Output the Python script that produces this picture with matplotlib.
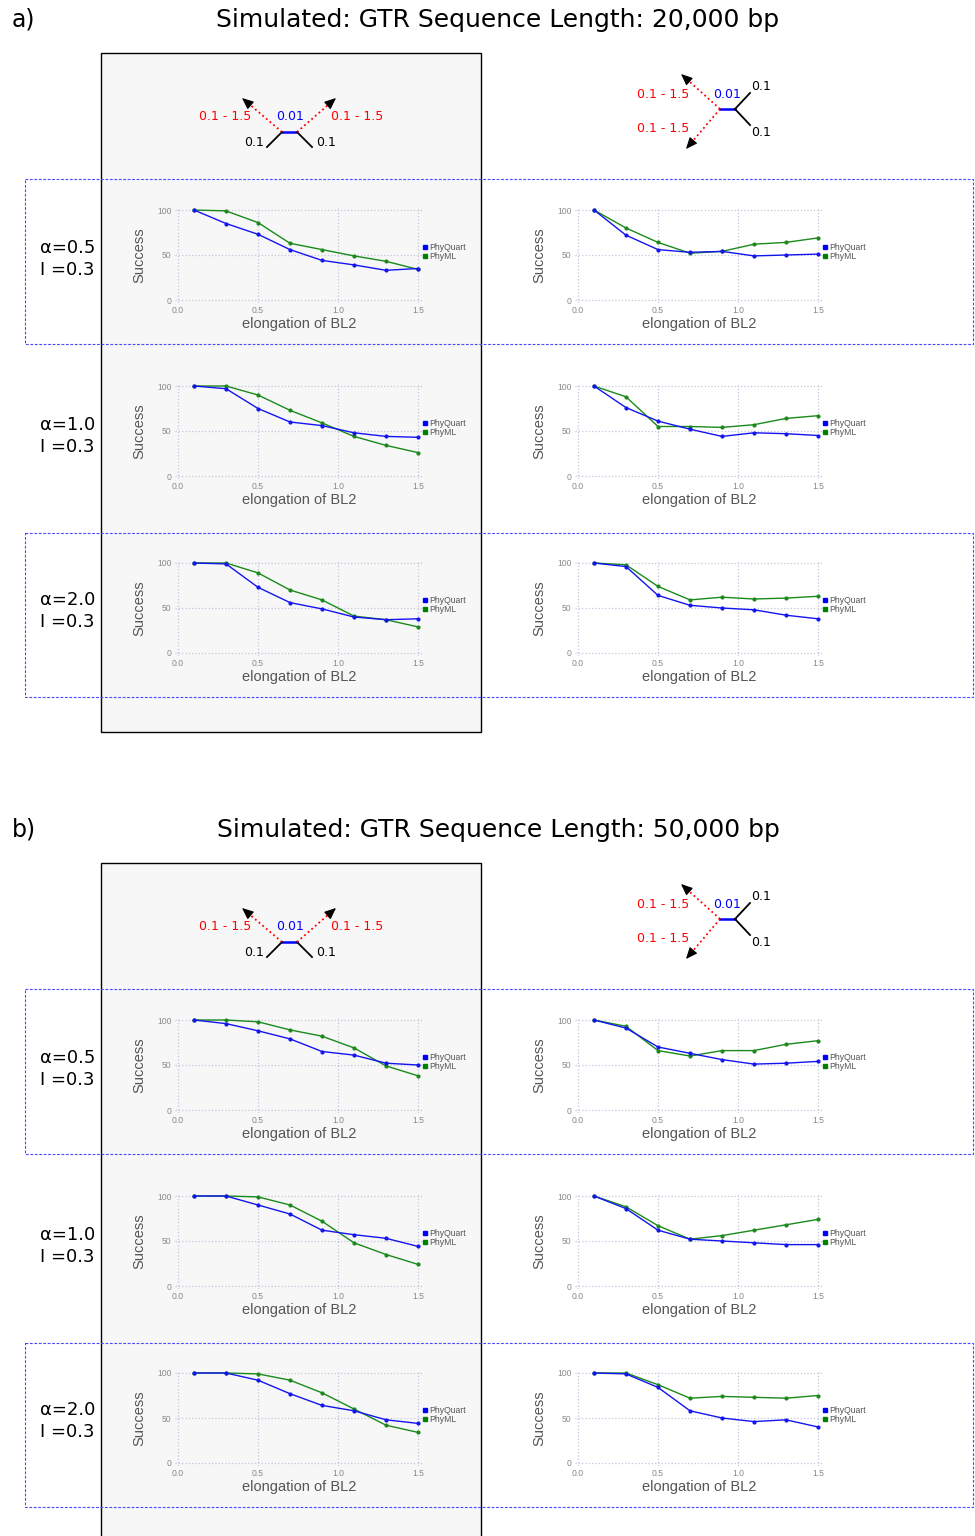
import matplotlib
matplotlib.use('Agg')
import matplotlib.pyplot as plt
from matplotlib.lines import Line2D
from matplotlib.patches import Rectangle

# x values: elongation of BL2
x_bl2 = [0.1, 0.3, 0.5, 0.7, 0.9, 1.1, 1.3, 1.5]
alphas = ['0.5', '1.0', '2.0']
inv = '0.3'
titles = ['Simulated: GTR Sequence Length: 20,000 bp',
          'Simulated: GTR Sequence Length: 50,000 bp']
panel_tags = ['a)', 'b)']

# success (%) per row (alpha)
a_left_quart = [[100, 85, 73, 56, 44, 39, 33, 35],
                [100, 97, 75, 60, 56, 48, 44, 43],
                [100, 99, 73, 56, 49, 40, 37, 38]]
a_left_ml = [[100, 99, 86, 63, 56, 49, 43, 34],
             [100, 100, 90, 73, 59, 44, 34, 26],
             [100, 100, 89, 70, 59, 41, 37, 29]]
a_right_quart = [[100, 72, 56, 53, 54, 49, 50, 51],
                 [100, 76, 61, 52, 44, 48, 47, 45],
                 [100, 96, 64, 53, 50, 48, 42, 38]]
a_right_ml = [[100, 80, 64, 52, 54, 62, 64, 69],
              [100, 88, 55, 55, 54, 57, 64, 67],
              [100, 98, 74, 59, 62, 60, 61, 63]]
b_left_quart = [[100, 96, 88, 79, 65, 61, 52, 50],
                [100, 100, 90, 80, 62, 57, 53, 44],
                [100, 100, 92, 77, 64, 58, 48, 44]]
b_left_ml = [[100, 100, 98, 89, 82, 69, 49, 38],
             [100, 100, 99, 90, 72, 48, 35, 24],
             [100, 100, 99, 92, 78, 60, 42, 34]]
b_right_quart = [[100, 91, 70, 63, 56, 51, 52, 54],
                 [100, 86, 62, 52, 50, 48, 46, 46],
                 [100, 99, 84, 58, 50, 46, 48, 40]]
b_right_ml = [[100, 93, 66, 60, 66, 66, 73, 77],
              [100, 88, 67, 52, 56, 62, 68, 74],
              [100, 100, 87, 72, 74, 73, 72, 75]]

quart = [[a_left_quart, a_right_quart], [b_left_quart, b_right_quart]]
ml = [[a_left_ml, a_right_ml], [b_left_ml, b_right_ml]]

W, H = 975, 1536
fig = plt.figure(figsize=(W / 100, H / 100), dpi=100)

# overlay in pixel coords for boxes, trees, labels
ov = fig.add_axes([0, 0, 1, 1])
ov.set_xlim(0, W)
ov.set_ylim(H, 0)
ov.axis('off')

blue = '#1414f0'
green = '#1a8a1a'
label_font = 'Liberation Sans'


def arrow(x0, y0, x1, y1):
    ov.plot([x0, x1], [y0, y1], color='red', ls=':', lw=1.3)
    dx, dy = x1 - x0, y1 - y0
    d = (dx ** 2 + dy ** 2) ** 0.5
    ov.annotate('', xy=(x1, y1), xytext=(x1 - dx / d * 9, y1 - dy / d * 9),
                arrowprops=dict(arrowstyle='-|>,head_length=0.7,head_width=0.3',
                                color='black', lw=0.8, shrinkA=0, shrinkB=0))


def tree_left(oy):
    ov.plot([282, 297], [132 + oy, 132 + oy], color='blue', lw=1.8)
    ov.plot([282, 267], [132 + oy, 147 + oy], color='black', lw=1.3)
    ov.plot([297, 312], [132 + oy, 147 + oy], color='black', lw=1.3)
    arrow(282, 132 + oy, 242, 98 + oy)
    arrow(297, 132 + oy, 336, 98 + oy)
    ov.text(225, 117 + oy, '0.1 - 1.5', color='red', fontsize=9, ha='center', va='center')
    ov.text(290, 117 + oy, '0.01', color='blue', fontsize=9, ha='center', va='center')
    ov.text(357, 117 + oy, '0.1 - 1.5', color='red', fontsize=9, ha='center', va='center')
    ov.text(254, 143 + oy, '0.1', color='black', fontsize=9, ha='center', va='center')
    ov.text(326, 143 + oy, '0.1', color='black', fontsize=9, ha='center', va='center')


def tree_right(oy):
    ov.plot([720, 735], [109 + oy, 109 + oy], color='blue', lw=1.8)
    ov.plot([735, 750], [109 + oy, 93 + oy], color='black', lw=1.3)
    ov.plot([735, 750], [109 + oy, 125 + oy], color='black', lw=1.3)
    arrow(720, 109 + oy, 681, 74 + oy)
    arrow(720, 109 + oy, 686, 149 + oy)
    ov.text(663, 95 + oy, '0.1 - 1.5', color='red', fontsize=9, ha='center', va='center')
    ov.text(663, 129 + oy, '0.1 - 1.5', color='red', fontsize=9, ha='center', va='center')
    ov.text(727, 95 + oy, '0.01', color='blue', fontsize=9, ha='center', va='center')
    ov.text(761, 87 + oy, '0.1', color='black', fontsize=9, ha='center', va='center')
    ov.text(761, 132 + oy, '0.1', color='black', fontsize=9, ha='center', va='center')


for s in range(2):
    oy = 810 * s
    # grey column box
    ov.add_patch(Rectangle((101, 53 + oy), 380, 679, facecolor='#f7f7f7',
                           edgecolor='black', lw=1.0, zorder=0))
    # dashed blue boxes around rows 1 and 3
    for y0, y1 in [(179, 344), (533, 697)]:
        ov.add_patch(Rectangle((25, y0 + oy), 948, y1 - y0, facecolor='none',
                               edgecolor='#4848ff', lw=0.8, ls=(0, (2.5, 1.5)), zorder=1))
    ov.text(12, 20 + oy, panel_tags[s], fontsize=17, ha='left', va='center')
    ov.text(498, 20 + oy, titles[s], fontsize=18, ha='center', va='center')
    tree_left(oy)
    tree_right(oy)
    for r in range(3):
        ly = [248, 425, 600][r] + oy
        ov.text(40, ly, 'α=' + alphas[r], fontsize=13, ha='left', va='center')
        ov.text(40, ly + 22, 'I =' + inv, fontsize=13, ha='left', va='center')

        for c in range(2):
            x0 = 178 + 400 * c
            y100 = [210, 386, 563][r] + oy
            left, right = x0 - 3, x0 + 245
            top, bottom = y100 - 3, y100 + 93
            ax = fig.add_axes([left / W, 1 - bottom / H, (right - left) / W, (bottom - top) / H])
            ax.patch.set_alpha(0)
            ax.set_xlim(-3 / 160, 1.5 + 5 / 160)
            ax.set_ylim(-3 / 0.9, 100 + 3 / 0.9)
            for sp in ax.spines.values():
                sp.set_visible(False)
            ax.set_xticks([0.0, 0.5, 1.0, 1.5])
            ax.set_xticklabels(['0.0', '0.5', '1.0', '1.5'])
            ax.set_yticks([0, 50, 100])
            ax.tick_params(length=0, labelsize=6.2, labelcolor='#888888', pad=2.5)
            for t in ax.get_xticklabels() + ax.get_yticklabels():
                t.set_family(label_font)
            ax.grid(True, color='#c5c5dd', ls=':', lw=0.9)
            ax.set_axisbelow(True)
            ax.plot(x_bl2, ml[s][c][r], color=green, lw=1.0, marker='o', ms=2)
            ax.plot(x_bl2, quart[s][c][r], color=blue, lw=1.0, marker='o', ms=2)
            ax.set_ylabel('Success', fontsize=10.5, color='#555555', family=label_font)
            ax.yaxis.set_label_coords(-0.115, 0.5)
            ax.set_xlabel('elongation of BL2', fontsize=10.5, color='#555555', family=label_font)
            ax.xaxis.set_label_coords(0.5, -0.145)
            handles = [Line2D([], [], marker='s', ls='', color='blue', ms=3.5, label='PhyQuart'),
                       Line2D([], [], marker='s', ls='', color='green', ms=3.5, label='PhyML')]
            leg = ax.legend(handles=handles, loc='center left', bbox_to_anchor=(1.0, 0.53),
                            frameon=False, handlelength=0.5, handletextpad=0.25,
                            labelspacing=0.05, borderaxespad=0, borderpad=0,
                            prop={'family': label_font, 'size': 6.2})
            for t in leg.get_texts():
                t.set_color('#555555')

fig.savefig('out.png', dpi=100)
